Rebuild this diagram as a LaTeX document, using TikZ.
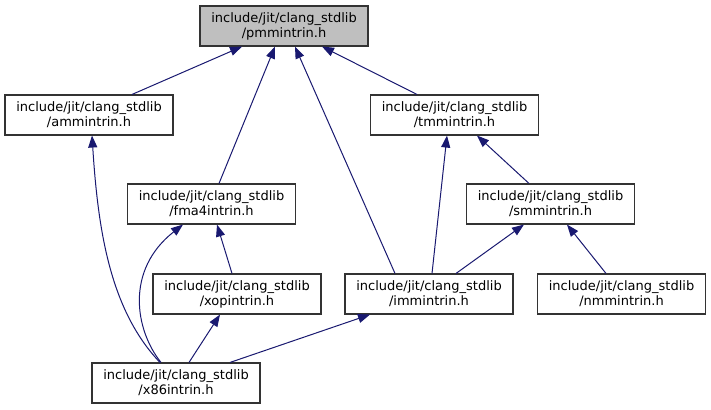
\documentclass[tikz,border=0pt]{standalone}
\usepackage{fontspec}
\setmainfont{DejaVu Sans}
\usepackage{tikz}
\usetikzlibrary{arrows.meta}
\definecolor{edgeblue}{HTML}{191970}
\definecolor{boxgrey}{HTML}{BFBFBF}
\tikzset{
	x=1pt, y=-1pt,
	file/.style = {
		shape=rectangle,
		draw=black!80,
		line width=1.1pt,
		fill=white,
		align=center,
		inner sep=0pt,
		minimum width=168pt,
		minimum height=40pt,
		font=\fontsize{13}{15}\selectfont
	},
	current/.style = {
		file,
		fill=boxgrey
	},
	incl/.style = {
		draw=edgeblue,
		line width=1pt,
		{Triangle[length=12pt,width=9pt,fill=edgeblue]}-
	}
}

\begin{document}
\begin{tikzpicture}
	\useasboundingbox (0,0) rectangle (711,409);
	% files
	\node[current] (pmmintrin) at (284,26) {include/jit/clang\_stdlib\\/pmmintrin.h};
	\node[file] (ammintrin) at (89,115) {include/jit/clang\_stdlib\\/ammintrin.h};
	\node[file] (tmmintrin) at (454.5,115) {include/jit/clang\_stdlib\\/tmmintrin.h};
	\node[file] (fma4intrin) at (211.5,204) {include/jit/clang\_stdlib\\/fma4intrin.h};
	\node[file] (smmintrin) at (550.5,204) {include/jit/clang\_stdlib\\/smmintrin.h};
	\node[file] (xopintrin) at (237,294) {include/jit/clang\_stdlib\\/xopintrin.h};
	\node[file] (immintrin) at (429,294) {include/jit/clang\_stdlib\\/immintrin.h};
	\node[file] (nmmintrin) at (621.5,294) {include/jit/clang\_stdlib\\/nmmintrin.h};
	\node[file] (x86intrin) at (176,383) {include/jit/clang\_stdlib\\/x86intrin.h};

	% includes
	\draw[incl] ([xshift=-42pt]pmmintrin.south) -- ([xshift=43pt]ammintrin.north);
	\draw[incl] ([xshift=-9pt]pmmintrin.south) -- ([xshift=7.5pt]fma4intrin.north);
	\draw[incl] ([xshift=11pt]pmmintrin.south) -- ([xshift=-34pt]immintrin.north);
	\draw[incl] ([xshift=38pt]pmmintrin.south) -- ([xshift=-37.5pt]tmmintrin.north);
	\draw[incl] ([xshift=-7.5pt]tmmintrin.south) -- ([xshift=3pt]immintrin.north);
	\draw[incl] ([xshift=22.5pt]tmmintrin.south) -- ([xshift=-21.5pt]smmintrin.north);
	\draw[incl] ([xshift=-26.5pt]smmintrin.south) -- ([xshift=27pt]immintrin.north);
	\draw[incl] ([xshift=16.5pt]smmintrin.south) -- ([xshift=-15.5pt]nmmintrin.north);
	\draw[incl] ([xshift=5.5pt]fma4intrin.south) -- ([xshift=-5pt]xopintrin.north);
	\draw[incl] ([xshift=-17pt]xopintrin.south) -- ([xshift=13pt]x86intrin.north);
	\draw[incl] ([xshift=-59pt]immintrin.south) -- ([xshift=54pt]x86intrin.north);
	\draw[incl] ([xshift=3pt]ammintrin.south) .. controls (98,230) and (110,310) .. ([xshift=-16pt]x86intrin.north);
	\draw[incl] ([xshift=-28.5pt]fma4intrin.south) .. controls (125,270) and (135,330) .. ([xshift=-15pt]x86intrin.north);
\end{tikzpicture}
\end{document}
